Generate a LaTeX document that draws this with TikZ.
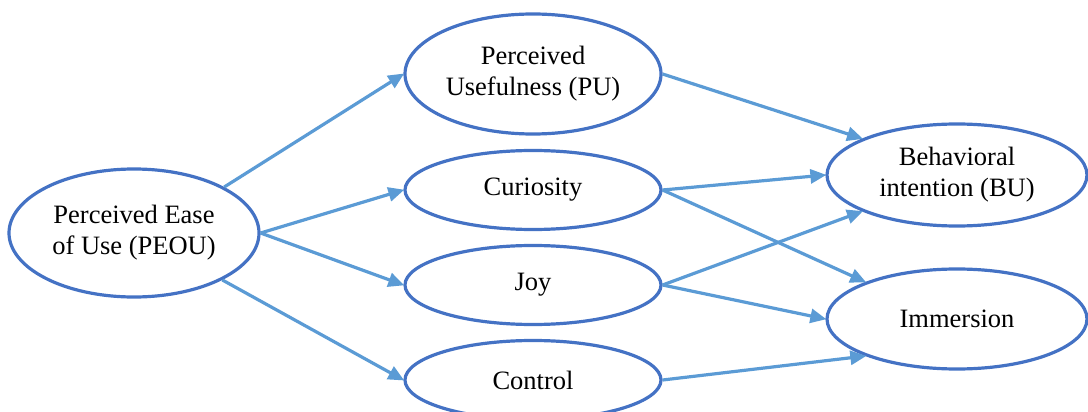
\documentclass[tikz,border=0pt]{standalone}
\usepackage{fontspec}
\setmainfont{Liberation Serif}
\usetikzlibrary{shapes.geometric,arrows.meta}
\definecolor{ovalblue}{HTML}{4472C4}
\definecolor{linkblue}{HTML}{5B9BD5}
\begin{document}
\begin{tikzpicture}[x=1pt,y=-1pt,
  oval/.style={ellipse, draw=ovalblue, line width=3.2pt, inner sep=0pt,
    align=center, font=\fontsize{26.5}{31}\selectfont, text=black},
  link/.style={draw=linkblue, line width=3.2pt,
    -{Triangle[length=16pt,width=14pt]}, shorten >=-1pt}]
\useasboundingbox (0,0) rectangle (1088,412);
\begin{scope}
\clip (0,0) rectangle (1088,412);
% constructs
\node[oval, minimum width=250pt, minimum height=128pt] (peou) at (134,233) {Perceived Ease\\of Use (PEOU)};
\node[oval, minimum width=256pt, minimum height=120pt] (pu) at (533,74) {Perceived\\Usefulness (PU)};
\node[oval, minimum width=256pt, minimum height=79pt] (cur) at (533,190) {Curiosity};
\node[oval, minimum width=256pt, minimum height=79pt] (joy) at (533,285) {Joy};
\node[oval, minimum width=256pt, minimum height=79pt] (ctl) at (533,380) {Control};
\node[oval, minimum width=260pt, minimum height=102pt] (bu) at (957,175) {Behavioral\\intention (BU)};
\node[oval, minimum width=260pt, minimum height=100pt] (imm) at (957,319) {Immersion};
% paths
\draw[link] (peou.27) -- (pu.west);
\draw[link] (peou.east) -- (cur.west);
\draw[link] (peou.east) -- (joy.west);
\draw[link] (peou.-28) -- (ctl.west);
\draw[link] (pu.east) -- (bu.159);
\draw[link] (cur.east) -- (bu.west);
\draw[link] (cur.east) -- (imm.158);
\draw[link] (joy.east) -- (bu.201);
\draw[link] (joy.east) -- (imm.west);
\draw[link] (ctl.east) -- (imm.202);
\end{scope}
\end{tikzpicture}
\end{document}
